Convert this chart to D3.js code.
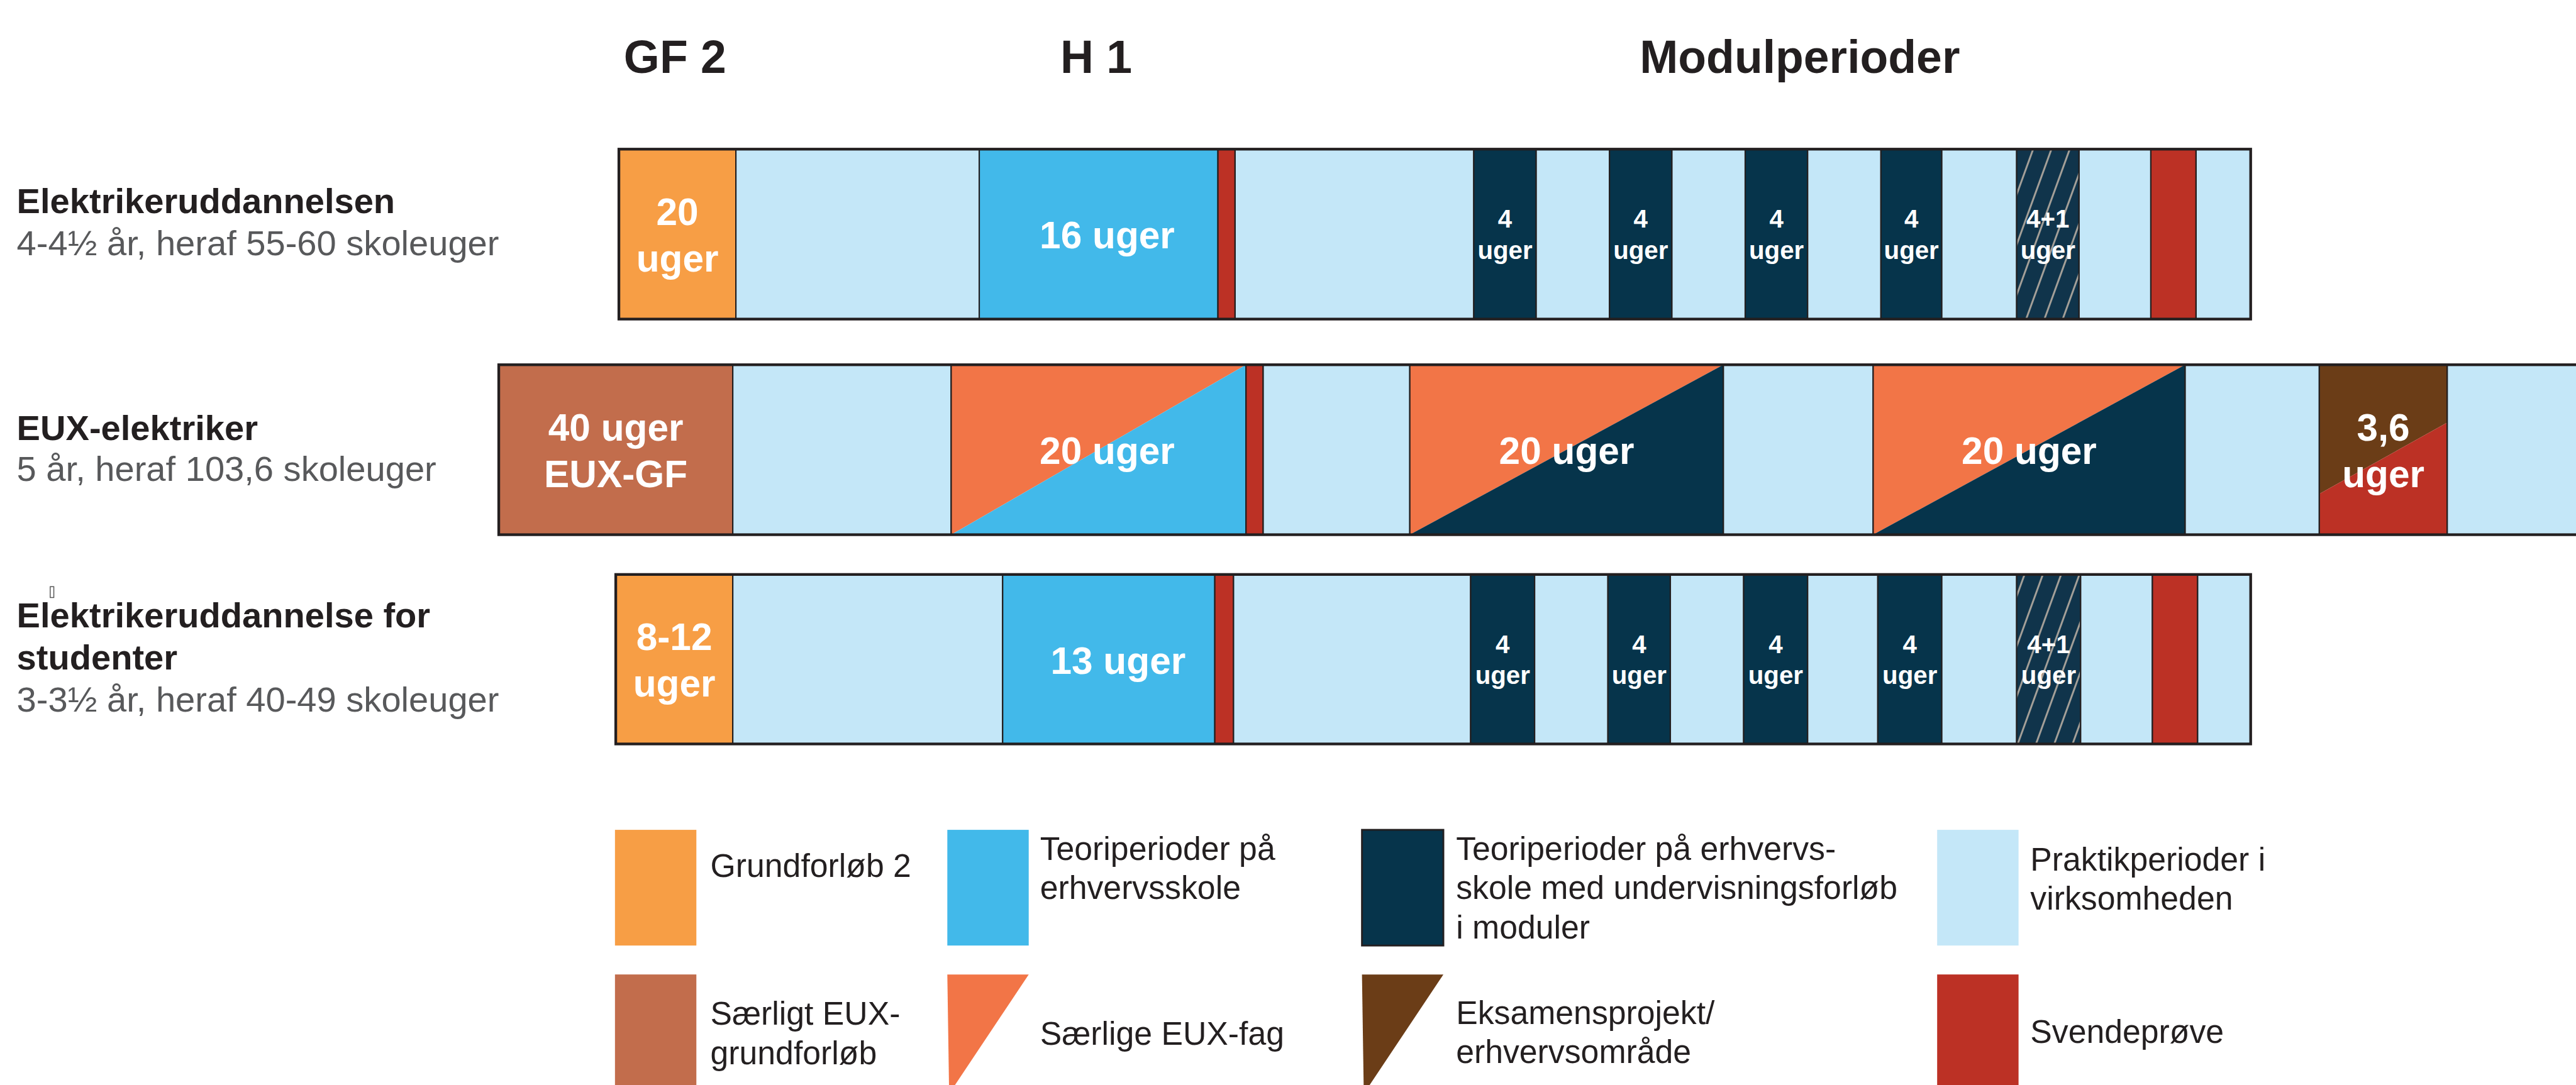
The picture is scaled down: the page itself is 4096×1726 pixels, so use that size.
<!DOCTYPE html>
<html>
<head>
<meta charset="utf-8">
<script src="https://cdn.jsdelivr.net/npm/d3@7"></script>
<style>
  body { margin: 0; background: #fff; }
  svg { display: block; }
</style>
</head>
<body>
<div id="chart"></div>
<script>
// overskrifter og rækker
const phaseNames = ["GF 2", "H 1", "Modulperioder"];
const phaseCenters = [11.3, 38.3, 83.4];

const rowNames = [["Elektrikeruddannelsen"], ["EUX-elektriker"], ["Elektrikeruddannelse for", "studenter"]];
const rowSubtitles = ["4-4½ år, heraf 55-60 skoleuger", "5 år, heraf 103,6 skoleuger", "3-3½ år, heraf 40-49 skoleuger"];

// forløb: typer og grænser (i uger på tidslinjen)
const row1Types = ["gf2", "praktik", "teori", "svende", "praktik", "modul", "praktik", "modul", "praktik",
  "modul", "praktik", "modul", "praktik", "hatch", "praktik", "svende", "praktik"];
const row1Bounds = [7.7, 15.2, 30.8, 46.1, 47.2, 62.5, 66.5, 71.2, 75.2, 79.9, 83.9, 88.6, 92.5, 97.3, 101.3, 105.9, 108.8, 112.3];
const row1Labels = [[0, 0, "20", "uger"], [2, 3, "16 uger"], [5, 5, "4", "uger"], [7, 7, "4", "uger"],
  [9, 9, "4", "uger"], [11, 11, "4", "uger"], [13, 13, "4+1", "uger"]];

const row2Types = ["euxGf", "praktik", "euxTeori", "svende", "praktik", "euxModul", "praktik", "euxModul",
  "praktik", "eksamen", "praktik"];
const row2Bounds = [0, 15.0, 29.0, 47.9, 49.0, 58.4, 78.5, 88.1, 108.1, 116.7, 124.9, 135.0];
const row2Labels = [[0, 0, "40 uger", "EUX-GF"], [2, 3, "20 uger"], [5, 5, "20 uger"], [7, 7, "20 uger"], [9, 9, "3,6", "uger"]];

const row3Types = row1Types.slice();
const row3Bounds = [7.5, 15.0, 32.3, 45.9, 47.1, 62.3, 66.4, 71.1, 75.1, 79.8, 83.9, 88.4, 92.5, 97.3, 101.4, 106.0, 108.9, 112.3];
const row3Labels = [[0, 0, "8-12", "uger"], [2, 3, "13 uger"], [5, 5, "4", "uger"], [7, 7, "4", "uger"],
  [9, 9, "4", "uger"], [11, 11, "4", "uger"], [13, 13, "4+1", "uger"]];

// forklaring
const legendNames = [
  ["Grundforløb 2"], ["Teoriperioder på", "erhvervsskole"],
  ["Teoriperioder på erhvervs-", "skole med undervisningsforløb", "i moduler"], ["Praktikperioder i", "virksomheden"],
  ["Særligt EUX-", "grundforløb"], ["Særlige EUX-fag"], ["Eksamensprojekt/", "erhvervsområde"], ["Svendeprøve"]
];
const legendKinds = ["gf2", "teori", "modul", "praktik", "euxGf", "euxFag", "eksamenFag", "svende"];

const colors = {
  gf2: "#f79e45", praktik: "#c4e7f8", teori: "#42b9ea", svende: "#bc3125", modul: "#06344b",
  euxGf: "#c26d4c", euxFag: "#f27547", eksamenFag: "#6b3d17", hatch: "url(#hatch)"
};
// delte felter: [farve over, farve under, linjens højde venstre, højre]
const splits = {
  euxTeori: ["#f27547", "#42b9ea", 1, 0],
  euxModul: ["#f27547", "#06344b", 1, 0],
  eksamen: ["#6b3d17", "#bc3125", 0.76, 0.34]
};

const W = 4096, H = 1726, k = 0.719;
const ink = "#231f20";
const font = "'Liberation Sans', Arial, sans-serif";

const svg = d3.select("#chart").append("svg")
  .attr("width", W)
  .attr("height", H);

const defs = svg.append("defs");
const pat = defs.append("pattern")
  .attr("id", "hatch")
  .attr("patternUnits", "userSpaceOnUse")
  .attr("width", 38)
  .attr("height", 38)
  .attr("patternTransform", "rotate(20)");
pat.append("rect").attr("width", 38).attr("height", 38).attr("fill", "#10344b");
pat.append("line").attr("x1", 6).attr("x2", 6).attr("y1", 0).attr("y2", 38)
  .attr("stroke", "#a7a29a").attr("stroke-width", 4);

const g = svg.append("g").attr("transform", `scale(${k})`);

const x = d3.scaleLinear().domain([0, 135]).range([1103, 1103 + 135 * 34.5]);

// overskrifter
g.selectAll(".phase")
  .data(phaseNames)
  .enter()
  .append("text")
  .attr("x", (d, i) => x(phaseCenters[i]))
  .attr("y", 162)
  .attr("text-anchor", "middle")
  .style("font-family", font)
  .style("font-size", "102px")
  .style("font-weight", "bold")
  .style("fill", ink)
  .text(d => d);

const rows = [
  { types: row1Types, bounds: row1Bounds, labels: row1Labels, top: 330, h: 376, nameY: [472], subY: 564 },
  { types: row2Types, bounds: row2Bounds, labels: row2Labels, top: 807, h: 376, nameY: [973], subY: 1064 },
  { types: row3Types, bounds: row3Bounds, labels: row3Labels, top: 1271, h: 375, nameY: [1388, 1481], subY: 1574 }
];

rows.forEach((row, r) => {
  const rg = g.append("g");
  const y0 = row.top, h = row.h, cy = y0 + h / 2;

  // rækkens navn
  rowNames[r].forEach((line, j) => {
    rg.append("text")
      .attr("x", 37).attr("y", row.nameY[j])
      .style("font-family", font).style("font-size", "78px").style("font-weight", "bold")
      .style("fill", ink).text(line);
  });
  rg.append("text")
    .attr("x", 37).attr("y", row.subY)
    .style("font-family", font).style("font-size", "78px")
    .style("fill", "#58595b").text(rowSubtitles[r]);

  row.types.forEach((t, i) => {
    const xa = x(row.bounds[i]), xb = x(row.bounds[i + 1]);
    if (splits[t]) {
      const [c1, c2, l, rr] = splits[t];
      rg.append("polygon")
        .attr("points", [[xa, y0], [xb, y0], [xb, y0 + h * rr], [xa, y0 + h * l]].join(" "))
        .attr("fill", c1);
      rg.append("polygon")
        .attr("points", [[xa, y0 + h * l], [xb, y0 + h * rr], [xb, y0 + h], [xa, y0 + h]].join(" "))
        .attr("fill", c2);
      rg.append("rect")
        .attr("x", xa).attr("y", y0).attr("width", xb - xa).attr("height", h)
        .attr("fill", "none").attr("stroke", ink).attr("stroke-width", 3);
    } else {
      rg.append("rect")
        .attr("x", xa).attr("y", y0).attr("width", xb - xa).attr("height", h)
        .attr("fill", colors[t]).attr("stroke", ink).attr("stroke-width", 3);
    }
  });

  // ydre ramme
  rg.append("rect")
    .attr("x", x(row.bounds[0])).attr("y", y0)
    .attr("width", x(row.bounds[row.bounds.length - 1]) - x(row.bounds[0]))
    .attr("height", h)
    .attr("fill", "none").attr("stroke", ink).attr("stroke-width", 6);

  // tekster i felterne
  row.labels.forEach(lab => {
    const [i0, i1, ...lines] = lab;
    const cx = (x(row.bounds[i0]) + x(row.bounds[i1 + 1])) / 2;
    const small = row.types[i0] === "modul" || row.types[i0] === "hatch";
    const size = small ? 56 : 84;
    let ys;
    if (small) ys = [cy - 14, cy + 55];
    else if (lines.length === 2) ys = [cy - 20, cy + 83];
    else ys = [cy + 32];
    lines.forEach((line, j) => {
      rg.append("text")
        .attr("x", cx).attr("y", ys[j])
        .attr("text-anchor", "middle")
        .style("font-family", font).style("font-size", size + "px").style("font-weight", "bold")
        .style("fill", "#fff").text(line);
    });
  });
});

// lille tegn ved tredje række
g.append("rect")
  .attr("x", 111).attr("y", 1298).attr("width", 8).attr("height", 24)
  .attr("fill", "none").attr("stroke", "#555").attr("stroke-width", 2);

// forklaring
const legCols = [1360, 2095, 3012, 4284];
const legTextX = [1571, 2300, 3220, 4490];
const legRowTop = [1836, 2156];
const legFirstBase = [1940, 1902, 1902, 1926, 2267, 2311, 2265, 2308];
const sw = 180;

const leg = g.append("g");
legendNames.forEach((lines, i) => {
  const c = i % 4, r = Math.floor(i / 4);
  const lx = legCols[c], ly = legRowTop[r];
  const kind = legendKinds[i];
  if (kind === "euxFag" || kind === "eksamenFag") {
    leg.append("polygon")
      .attr("points", [[lx, ly], [lx + sw, ly], [lx + 4, 2420]].join(" "))
      .attr("fill", colors[kind]);
  } else {
    leg.append("rect")
      .attr("x", lx).attr("y", ly).attr("width", sw)
      .attr("height", r === 0 ? 256 : 260)
      .attr("fill", colors[kind])
      .attr("stroke", kind === "modul" ? ink : "none")
      .attr("stroke-width", 4);
  }
  lines.forEach((line, j) => {
    leg.append("text")
      .attr("x", legTextX[c]).attr("y", legFirstBase[i] + j * 87)
      .style("font-family", font).style("font-size", "72px")
      .style("fill", ink).text(line);
  });
});
</script>
</body>
</html>
